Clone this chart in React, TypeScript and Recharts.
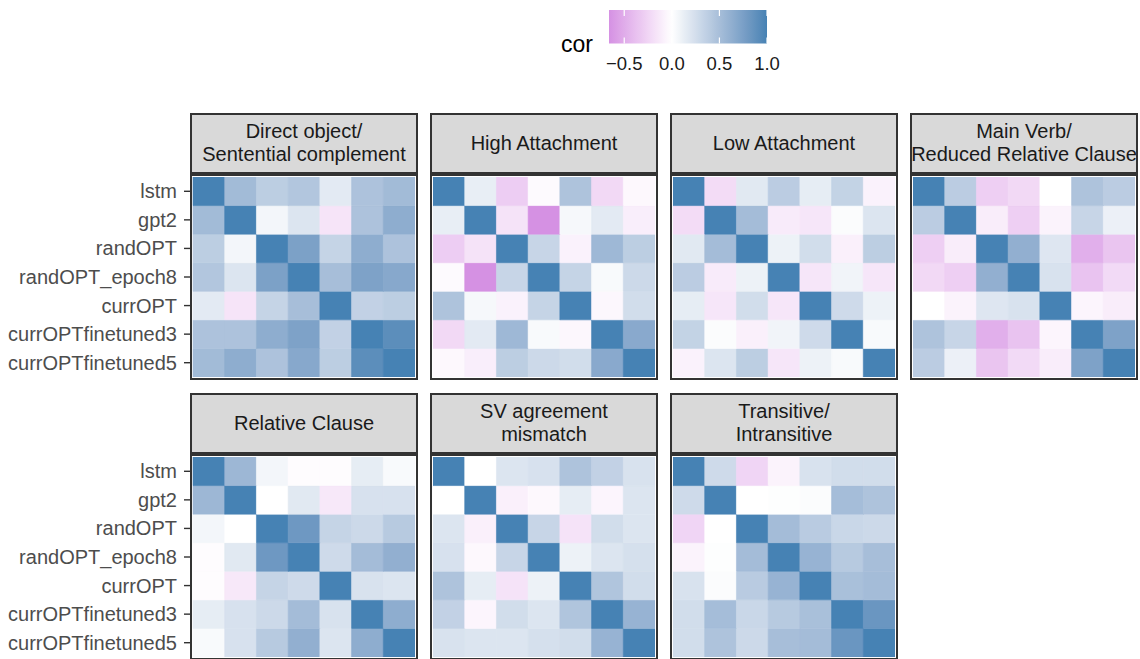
import React from "react";
import { BarChart, Bar, XAxis, YAxis, Cell } from "recharts";

const models = [
  "lstm",
  "gpt2",
  "randOPT",
  "randOPT_epoch8",
  "currOPT",
  "currOPTfinetuned3",
  "currOPTfinetuned5",
];

const facetTitles = [
  ["Direct object/", "Sentential complement"],
  ["High Attachment"],
  ["Low Attachment"],
  ["Main Verb/", "Reduced Relative Clause"],
  ["Relative Clause"],
  ["SV agreement", "mismatch"],
  ["Transitive/", "Intransitive"],
];

const corDirectObject = [
  [1.0, 0.53, 0.38, 0.44, 0.16, 0.47, 0.53],
  [0.53, 1.0, 0.07, 0.2, -0.16, 0.47, 0.64],
  [0.38, 0.07, 1.0, 0.74, 0.33, 0.64, 0.47],
  [0.44, 0.2, 0.74, 1.0, 0.5, 0.73, 0.68],
  [0.16, -0.16, 0.33, 0.5, 1.0, 0.35, 0.38],
  [0.47, 0.47, 0.64, 0.73, 0.35, 1.0, 0.9],
  [0.53, 0.64, 0.47, 0.68, 0.38, 0.9, 1.0],
];

const corHighAttachment = [
  [1.0, 0.13, -0.3, -0.03, 0.46, -0.23, -0.04],
  [0.13, 1.0, -0.17, -0.66, 0.05, 0.16, -0.1],
  [-0.3, -0.17, 1.0, 0.32, -0.08, 0.55, 0.38],
  [-0.03, -0.66, 0.32, 1.0, 0.33, 0.04, 0.29],
  [0.46, 0.05, -0.08, 0.33, 1.0, -0.05, 0.26],
  [-0.23, 0.16, 0.55, 0.04, -0.05, 1.0, 0.67],
  [-0.04, -0.1, 0.38, 0.29, 0.26, 0.67, 1.0],
];

const corLowAttachment = [
  [1.0, -0.21, 0.17, 0.39, 0.14, 0.34, -0.08],
  [-0.21, 1.0, 0.52, -0.12, -0.15, 0.02, 0.2],
  [0.17, 0.52, 1.0, 0.1, 0.26, -0.09, 0.38],
  [0.39, -0.12, 0.1, 1.0, -0.15, 0.08, -0.15],
  [0.14, -0.15, 0.26, -0.15, 1.0, 0.28, 0.1],
  [0.34, 0.02, -0.09, 0.08, 0.28, 1.0, 0.04],
  [-0.08, 0.2, 0.38, -0.15, 0.1, 0.04, 1.0],
];

const corMainVerb = [
  [1.0, 0.39, -0.29, -0.23, 0.0, 0.46, 0.39],
  [0.39, 1.0, -0.11, -0.29, -0.07, 0.32, 0.11],
  [-0.29, -0.11, 1.0, 0.62, 0.19, -0.48, -0.35],
  [-0.23, -0.29, 0.62, 1.0, 0.22, -0.36, -0.22],
  [0.0, -0.07, 0.19, 0.22, 1.0, -0.06, -0.11],
  [0.46, 0.32, -0.48, -0.36, -0.06, 1.0, 0.73],
  [0.39, 0.11, -0.35, -0.22, -0.11, 0.73, 1.0],
];

const corRelativeClause = [
  [1.0, 0.56, 0.07, -0.02, -0.02, 0.14, 0.04],
  [0.56, 1.0, 0.0, 0.17, -0.14, 0.23, 0.23],
  [0.07, 0.0, 1.0, 0.81, 0.33, 0.29, 0.41],
  [-0.02, 0.17, 0.81, 1.0, 0.28, 0.52, 0.62],
  [-0.02, -0.14, 0.33, 0.28, 1.0, 0.22, 0.2],
  [0.14, 0.23, 0.29, 0.52, 0.22, 1.0, 0.64],
  [0.04, 0.23, 0.41, 0.62, 0.2, 0.64, 1.0],
];

const corSVAgreement = [
  [1.0, 0.0, 0.2, 0.23, 0.46, 0.35, 0.22],
  [0.0, 1.0, -0.09, -0.04, 0.14, -0.06, 0.2],
  [0.2, -0.09, 1.0, 0.32, -0.17, 0.26, 0.2],
  [0.23, -0.04, 0.32, 1.0, 0.1, 0.2, 0.24],
  [0.46, 0.14, -0.17, 0.1, 1.0, 0.45, 0.26],
  [0.35, -0.06, 0.26, 0.2, 0.45, 1.0, 0.59],
  [0.22, 0.2, 0.2, 0.24, 0.26, 0.59, 1.0],
];

const corTransitive = [
  [1.0, 0.28, -0.25, -0.07, 0.22, 0.26, 0.26],
  [0.28, 1.0, 0.0, 0.01, 0.02, 0.51, 0.46],
  [-0.25, 0.0, 1.0, 0.52, 0.4, 0.31, 0.29],
  [-0.07, 0.01, 0.52, 1.0, 0.59, 0.41, 0.5],
  [0.22, 0.02, 0.4, 0.59, 1.0, 0.49, 0.52],
  [0.26, 0.51, 0.31, 0.41, 0.49, 1.0, 0.83],
  [0.26, 0.46, 0.29, 0.5, 0.52, 0.83, 1.0],
];

const legendTicks = [-0.5, 0.0, 0.5, 1.0];
const legendTickLabels = ["\u22120.5", "0.0", "0.5", "1.0"];

const facetMatrices = [
  corDirectObject,
  corHighAttachment,
  corLowAttachment,
  corMainVerb,
  corRelativeClause,
  corSVAgreement,
  corTransitive,
];

// ---------- colour scale (gradient2 in CIELAB) ----------
const LOW = "#BA55D3";
const MID = "#FFFFFF";
const HIGH = "#4682B4";

function hexToRgb(h: string) {
  const n = parseInt(h.slice(1), 16);
  return [(n >> 16) & 255, (n >> 8) & 255, n & 255];
}
function toLin(c: number) {
  const s = c / 255;
  return s <= 0.04045 ? s / 12.92 : Math.pow((s + 0.055) / 1.055, 2.4);
}
function fromLin(c: number) {
  const s = c <= 0.0031308 ? 12.92 * c : 1.055 * Math.pow(c, 1 / 2.4) - 0.055;
  return Math.max(0, Math.min(255, Math.round(s * 255)));
}
const Xn = 0.95047, Yn = 1.0, Zn = 1.08883;
function fLab(t: number) {
  return t > 0.008856 ? Math.cbrt(t) : 7.787 * t + 16 / 116;
}
function fInv(t: number) {
  return t > 0.206893 ? t * t * t : (t - 16 / 116) / 7.787;
}
function hexToLab(h: string) {
  const [r, g, b] = hexToRgb(h).map(toLin);
  const X = 0.4124 * r + 0.3576 * g + 0.1805 * b;
  const Y = 0.2126 * r + 0.7152 * g + 0.0722 * b;
  const Z = 0.0193 * r + 0.1192 * g + 0.9505 * b;
  const fx = fLab(X / Xn), fy = fLab(Y / Yn), fz = fLab(Z / Zn);
  return [116 * fy - 16, 500 * (fx - fy), 200 * (fy - fz)];
}
function labToHex(L: number, a: number, bb: number) {
  const fy = (L + 16) / 116;
  const fx = fy + a / 500;
  const fz = fy - bb / 200;
  const X = Xn * fInv(fx), Y = Yn * fInv(fy), Z = Zn * fInv(fz);
  const r = 3.2406 * X - 1.5372 * Y - 0.4986 * Z;
  const g = -0.9689 * X + 1.8758 * Y + 0.0415 * Z;
  const b = 0.0557 * X - 0.204 * Y + 1.057 * Z;
  const hx = (v: number) => fromLin(v).toString(16).padStart(2, "0");
  return "#" + hx(r) + hx(g) + hx(b);
}
const labLow = hexToLab(LOW), labMid = hexToLab(MID), labHigh = hexToLab(HIGH);
function corColor(v: number) {
  const t = Math.max(-1, Math.min(1, v));
  const end = t >= 0 ? labHigh : labLow;
  const k = Math.abs(t);
  return labToHex(
    labMid[0] + (end[0] - labMid[0]) * k,
    labMid[1] + (end[1] - labMid[1]) * k,
    labMid[2] + (end[2] - labMid[2]) * k
  );
}

const allValues = facetMatrices.flat(2);
const corMin = Math.min(...allValues);
const corMax = Math.max(...allValues);

// ---------- layout constants ----------
const FONT = "'Liberation Sans', Arial, Helvetica, sans-serif";
const CELL_LEFT = [193, 433, 673, 913];
const ROW_TOP = [176.7, 456.7];
const PW = 222;
const PH = 200;
const AXIS_W = 193;

const facetPositions = [
  [0, 0], [0, 1], [0, 2], [0, 3],
  [1, 0], [1, 1], [1, 2],
];

const stackOrder = [6, 5, 4, 3, 2, 1, 0];
const yTicks = [0.5, 1.5, 2.5, 3.5, 4.5, 5.5, 6.5];

function YTick(props: any) {
  const { y, payload } = props;
  const label = models[6 - Math.floor(payload.value)];
  return (
    <g>
      <line x1={AXIS_W - 9} x2={AXIS_W - 3} y1={y} y2={y} stroke="#333333" strokeWidth={1.4} />
      <text
        x={AXIS_W - 16}
        y={y}
        textAnchor="end"
        dominantBaseline="central"
        fontSize={20}
        fontFamily={FONT}
        fill="#4d4d4d"
      >
        {label}
      </text>
    </g>
  );
}

function Heatmap({ cor, showY }: { cor: number[][]; showY: boolean }) {
  const data = models.map((m) => {
    const d: any = { col: m };
    models.forEach((_, i) => {
      d["r" + i] = 1;
    });
    return d;
  });
  return (
    <BarChart
      width={PW + (showY ? AXIS_W : 0)}
      height={PH}
      data={data}
      margin={{ top: 0, right: 0, bottom: 0, left: 0 }}
      barCategoryGap={0}
      barGap={0}
    >
      <XAxis dataKey="col" type="category" hide />
      <YAxis
        type="number"
        domain={[0, 7]}
        allowDataOverflow
        ticks={yTicks}
        interval={0}
        hide={!showY}
        width={showY ? AXIS_W : 0}
        axisLine={false}
        tickLine={false}
        tickSize={0}
        tickMargin={0}
        tick={<YTick />}
      />
      {stackOrder.map((i) => (
        <Bar key={i} dataKey={"r" + i} stackId="s" isAnimationActive={false}>
          {models.map((m, j) => {
            const c = corColor(cor[i][j]);
            return <Cell key={m} fill={c} stroke={c} strokeWidth={0.6} />;
          })}
        </Bar>
      ))}
    </BarChart>
  );
}

function Legend() {
  const x0 = 609, x1 = 767, yTop = 10, yBot = 43.5;
  const sx = (v: number) => x0 + ((v - corMin) / (corMax - corMin)) * (x1 - x0);
  const stops = Array.from({ length: 41 }, (_, k) => {
    const v = corMin + ((corMax - corMin) * k) / 40;
    return { off: k / 40, c: corColor(v) };
  });
  return (
    <svg width={1140} height={90} style={{ position: "absolute", left: 0, top: 0 }}>
      <defs>
        <linearGradient id="corGrad" x1="0" x2="1" y1="0" y2="0">
          {stops.map((s, k) => (
            <stop key={k} offset={s.off} stopColor={s.c} />
          ))}
        </linearGradient>
      </defs>
      <text x={561} y={52} fontSize={23} fontFamily={FONT} fill="#000">
        cor
      </text>
      <rect x={x0} y={yTop} width={x1 - x0} height={yBot - yTop} fill="url(#corGrad)" />
      {legendTicks.map((v, k) => (
        <g key={k}>
          <line x1={sx(v)} x2={sx(v)} y1={yTop} y2={yTop + 6} stroke="#fff" strokeWidth={1.2} />
          <line x1={sx(v)} x2={sx(v)} y1={yBot - 6} y2={yBot} stroke="#fff" strokeWidth={1.2} />
          <text
            x={sx(v)}
            y={70}
            textAnchor="middle"
            fontSize={18.5}
            fontFamily={FONT}
            fill="#1a1a1a"
          >
            {legendTickLabels[k]}
          </text>
        </g>
      ))}
    </svg>
  );
}

export default function App() {
  return (
    <div
      style={{
        position: "absolute",
        left: 0,
        top: 0,
        width: 1140,
        height: 659,
        overflow: "hidden",
        background: "#fff",
        fontFamily: FONT,
      }}
    >
      <Legend />
      {facetMatrices.map((cor, f) => {
        const [r, c] = facetPositions[f];
        const left = CELL_LEFT[c];
        const top = ROW_TOP[r];
        const showY = c === 0;
        const title = facetTitles[f];
        return (
          <React.Fragment key={f}>
            <div
              style={{
                position: "absolute",
                left: left - 3,
                top: top - 3 - 61,
                width: PW + 6,
                height: 61,
                boxSizing: "border-box",
                border: "2px solid #333333",
                background: "#d9d9d9",
                display: "flex",
                flexDirection: "column",
                alignItems: "center",
                justifyContent: "center",
                fontSize: 20,
                lineHeight: "23px",
                color: "#1a1a1a",
                whiteSpace: "nowrap",
                overflow: "hidden",
                textAlign: "center",
              }}
            >
              {title.map((t, k) => (
                <div key={k}>{t}</div>
              ))}
            </div>
            <div
              style={{
                position: "absolute",
                left: left - (showY ? AXIS_W : 0),
                top: top,
              }}
            >
              <Heatmap cor={cor} showY={showY} />
            </div>
            <div
              style={{
                position: "absolute",
                left: left - 3,
                top: top - 3,
                width: PW + 6,
                height: PH + 6,
                boxSizing: "border-box",
                border: "2px solid #333333",
                pointerEvents: "none",
              }}
            />
          </React.Fragment>
        );
      })}
    </div>
  );
}
